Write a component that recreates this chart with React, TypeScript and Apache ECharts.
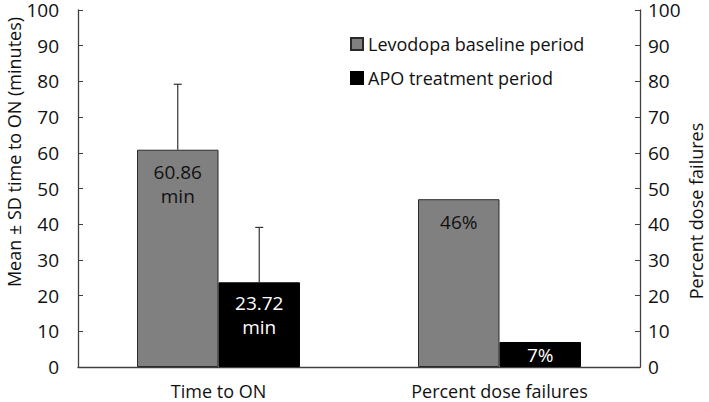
import React, { useEffect, useRef } from "react";
import * as echarts from "echarts";

const categories = ["Time to ON", "Percent dose failures"];
const seriesNames = ["Levodopa baseline period", "APO treatment period"];
const levodopaValues = [60.86, 47];
const apoValues = [23.72, 7];
const levodopaLabels = ["60.86\nmin", "46%"];
const apoLabels = ["23.72\nmin", "7%"];
const levodopaErrorTop = [79.2, null];
const apoErrorTop = [39.1, null];
const yTicks = [0, 10, 20, 30, 40, 50, 60, 70, 80, 90, 100];

const FONT = "'Open Sans', sans-serif";

export default function App() {
  const ref = useRef<HTMLDivElement>(null);
  useEffect(() => {
    document.body.style.margin = "0";
    if (!ref.current) return;
    const chart = echarts.init(ref.current, null, { renderer: "svg" });
    const axisColor = "#404040";
    const barGapPct = 0.42;
    const makeErr = (tops: (number | null)[], vals: number[], side: number) => ({
      type: "custom",
      xAxisIndex: 0,
      yAxisIndex: 0,
      silent: true,
      z: 1,
      data: tops.map((t, i) => [i, vals[i], t]),
      renderItem: (params: any, api: any) => {
        const top = api.value(2);
        if (top === null || top === undefined || isNaN(top)) return null;
        const band = api.size([1, 0])[0];
        const bw = (band * (1 - barGapPct)) / 2;
        const p0 = api.coord([api.value(0), api.value(1)]);
        const p1 = api.coord([api.value(0), top]);
        const x = p0[0] + side * bw / 2;
        const style = { stroke: "#333", lineWidth: 1.2 };
        return {
          type: "group",
          children: [
            { type: "line", shape: { x1: x, y1: p0[1], x2: x, y2: p1[1] }, style },
            { type: "line", shape: { x1: x - 4, y1: p1[1], x2: x + 4, y2: p1[1] }, style },
          ],
        };
      },
    });
    const yAxisCommon = {
      type: "value",
      min: 0,
      max: 100,
      interval: 10,
      axisLine: { show: true, lineStyle: { color: axisColor, width: 1.3 } },
      axisTick: { show: true, inside: true, length: 5, lineStyle: { color: axisColor } },
      splitLine: { show: false },
    };
    const labelCommon = {
      fontFamily: FONT,
      fontSize: 19,
      lineHeight: 16,
      color: "#111",
      formatter: (v: number) => (yTicks.includes(v) ? String(v) : ""),
    };
    chart.setOption({
      animation: false,
      grid: { left: 78, right: 69, top: 10, bottom: 35 },
      legend: {
        orient: "vertical",
        left: 345,
        top: 30,
        itemWidth: 12,
        itemHeight: 12,
        itemGap: 16,
        icon: "rect",
        data: seriesNames,
        textStyle: { fontFamily: FONT, fontSize: 18, color: "#111" },
      },
      xAxis: {
        type: "category",
        data: categories,
        axisLine: { lineStyle: { color: axisColor, width: 1.3 } },
        axisTick: { show: false },
        axisLabel: { fontFamily: FONT, fontSize: 18, color: "#111", margin: 15 },
      },
      yAxis: [
        { ...yAxisCommon, position: "left", axisLabel: { ...labelCommon, margin: 19 } },
        { ...yAxisCommon, position: "right", axisLabel: { ...labelCommon, margin: 8 } },
      ],
      graphic: [
        {
          type: "text",
          x: 14,
          y: 152,
          rotation: Math.PI / 2,
          style: {
            text: "Mean ± SD time to ON (minutes)",
            fontFamily: FONT,
            fontSize: 18,
            lineHeight: 20,
            fill: "#111",
            align: "center",
            verticalAlign: "middle",
          },
        },
        {
          type: "text",
          x: 696,
          y: 211,
          rotation: Math.PI / 2,
          style: {
            text: "Percent dose failures",
            fontFamily: FONT,
            fontSize: 18,
            lineHeight: 20,
            fill: "#111",
            align: "center",
            verticalAlign: "middle",
          },
        },
      ],
      series: [
        {
          name: seriesNames[0],
          type: "bar",
          barGap: "0%",
          barCategoryGap: "42%",
          z: 2,
          itemStyle: { color: "#808080", borderColor: "#2a2a2a", borderWidth: 1 },
          data: levodopaValues.map((v, i) => ({
            value: v,
            label: {
              show: true,
              position: "insideTop",
              distance: i === 0 ? 10 : 11,
              formatter: levodopaLabels[i],
              fontFamily: FONT,
              fontSize: 19,
              lineHeight: 24,
              color: "#111",
            },
          })),
        },
        {
          name: seriesNames[1],
          type: "bar",
          barGap: "0%",
          barCategoryGap: "42%",
          z: 2,
          itemStyle: { color: "#000000", borderColor: "#000", borderWidth: 1 },
          data: apoValues.map((v, i) => ({
            value: v,
            label: {
              show: true,
              position: i === 0 ? "insideTop" : "inside",
              distance: 9,
              formatter: apoLabels[i],
              fontFamily: FONT,
              fontSize: 19,
              lineHeight: 24,
              color: "#fff",
            },
          })),
        },
        makeErr(levodopaErrorTop, levodopaValues, -1),
        makeErr(apoErrorTop, apoValues, 1),
      ],
    });
    return () => chart.dispose();
  }, []);
  return <div ref={ref} style={{ width: 709, height: 402 }} />;
}
